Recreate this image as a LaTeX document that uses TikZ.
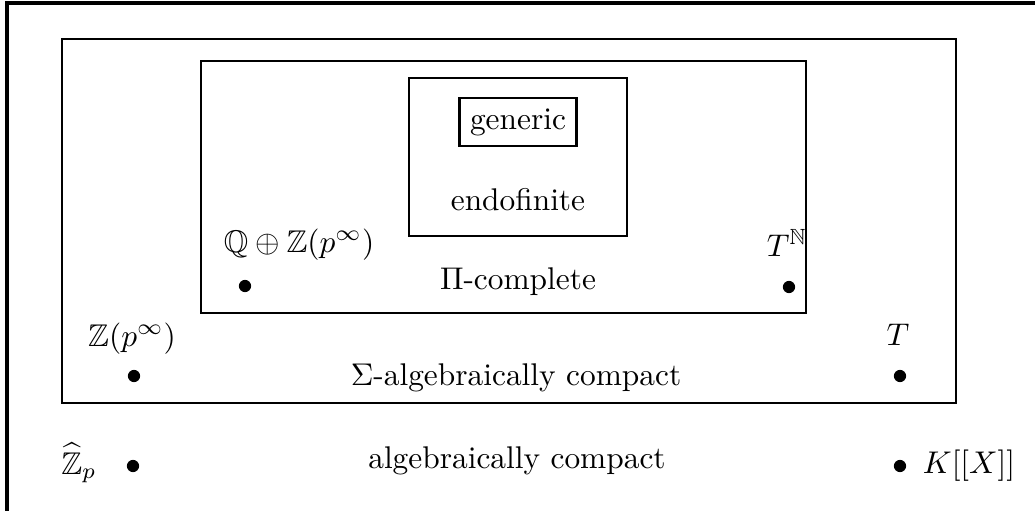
\documentclass[tikz,border=0pt]{standalone}
\usepackage{amsmath,amssymb}
\usepackage{tikz}
\tikzstyle{cls_box} = [draw=black, line width=0.75pt]
\tikzstyle{cls_gen} = [rectangle, draw=black, line width=0.75pt, inner sep=3.4pt]
\tikzstyle{cls_lab} = [inner sep=0pt, anchor=base]
\tikzstyle{cls_dot} = [circle, fill=black, inner sep=0pt, minimum size=3.9pt]

\begin{document}
\begin{tikzpicture}[x=0.0112cm, y=-0.0112cm]
\useasboundingbox (0,0) rectangle (1035,511);
% outer frame (only top and left edge visible)
\begin{scope}
\clip (0,0) rectangle (1035,511);
\draw [line width=1pt] (7,520) -- (7,3) -- (1045,3);
\end{scope}
% nested classes
\draw [cls_box] (62,39) rectangle (956,403);
\draw [cls_box] (201,61) rectangle (806,313);
\draw [cls_box] (409,78) rectangle (627,236);
\node [cls_gen] (gen) at (518,122) {generic};
\node [cls_lab] (endo) at (518,210) {endofinite};
\node [cls_lab] (picpl) at (518,289) {$\Pi$-complete};
\node [cls_lab] (sacpt) at (516,385) {$\Sigma$-algebraically compact};
\node [cls_lab] (acpt) at (517,468) {algebraically compact};
% examples
\node [cls_dot] (dot qz) at (245,286) {};
\node [cls_lab] (qz) at (299,252) {$\mathbb{Q}\oplus\mathbb{Z}(p^\infty)$};
\node [cls_dot] (dot tn) at (789,287) {};
\node [cls_lab] (tn) at (787,256) {$T^{\mathbb{N}}$};
\node [cls_dot] (dot zp) at (134,376) {};
\node [cls_lab] (zp) at (132,346) {$\mathbb{Z}(p^\infty)$};
\node [cls_dot] (dot t) at (900,376) {};
\node [cls_lab] (t) at (898,345) {$T$};
\node [cls_dot] (dot hz) at (133,466) {};
\node [cls_lab] (hz) at (79,474) {$\widehat{\mathbb{Z}}_p$};
\node [cls_dot] (dot kx) at (900,466) {};
\node [cls_lab] (kx) at (969,473) {$K[[X]]$};
\end{tikzpicture}
\end{document}
